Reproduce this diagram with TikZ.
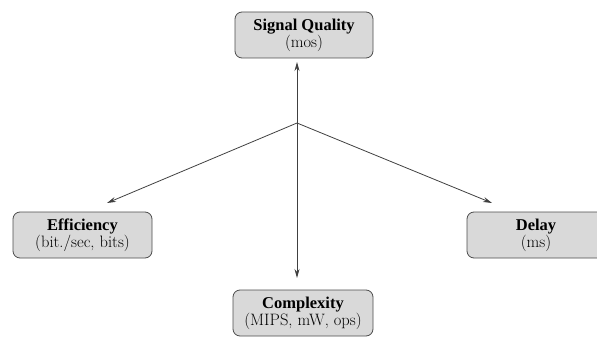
\documentclass[tikz,border=0pt]{standalone}
\usepackage{fontspec}
\newfontfamily\titlefont{Liberation Serif}
\usetikzlibrary{arrows.meta}
\begin{document}
\begin{tikzpicture}[x=1pt,y=-1pt,
  metric/.style={draw=black!70, line width=0.8pt, fill=black!15, rounded corners=7pt,
    minimum height=46pt, inner sep=0pt, align=center,
    font=\fontsize{16.5}{17}\selectfont},
  link/.style={draw=black!75, line width=0.8pt, -{Stealth[length=9pt,width=5pt]}},
  ttl/.style={}]
  \useasboundingbox (0,0) rectangle (597,337);
  \clip (0,0) rectangle (597,337);
  % the four quality criteria
  \node[metric, minimum width=138pt] (sq) at (304,35)
    {{\titlefont\bfseries Signal Quality}\\(mos)};
  \node[metric, minimum width=139pt] (ef) at (82.5,235)
    {{\titlefont\bfseries Efficiency}\\(bit./sec, bits)};
  \node[metric, minimum width=138pt] (dl) at (536,235)
    {{\titlefont\bfseries Delay}\\(ms)};
  \node[metric, minimum width=140pt] (cx) at (303,313)
    {{\titlefont\bfseries Complexity}\\(MIPS, mW, ops)};
  % common origin and the arrows to each criterion
  \coordinate (o) at (297,123);
  \coordinate (tq) at (297,62);
  \coordinate (te) at (107,203);
  \coordinate (td) at (492,203);
  \coordinate (tc) at (297,278);
  \draw[link] (o) -- (tq);
  \draw[link] (o) -- (te);
  \draw[link] (o) -- (td);
  \draw[link] (o) -- (tc);
\end{tikzpicture}
\end{document}
